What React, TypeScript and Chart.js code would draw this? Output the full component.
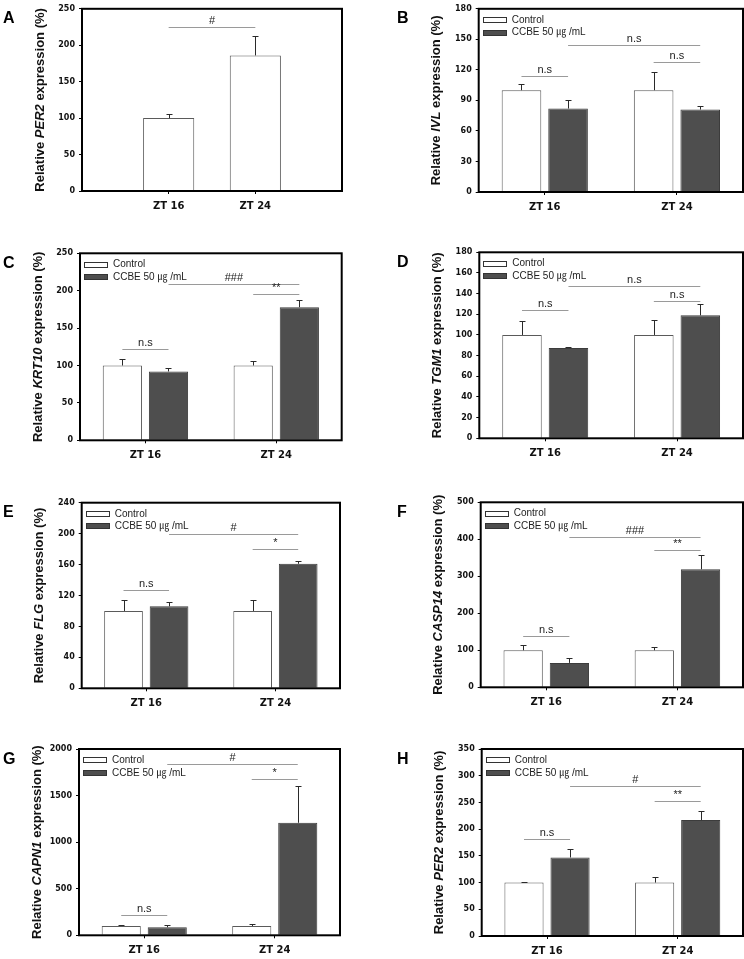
import React, { useEffect, useRef } from 'react';
import { Chart, registerables } from 'chart.js';

Chart.register(...registerables);

// ---------- data ----------
const timepoints = ['ZT 16', 'ZT 24'];
const controlName = 'Control';
const ccbeName = 'CCBE 50 ㎍ /mL';

type Sig = { y: number; from: [number, number]; to: [number, number]; text: string };

// A: PER2 in untreated cells (single series, centred at 1/3 and 2/3)
const per2BaseLabels = ['', 'ZT 16', 'ZT 24', ''];
const per2BaseMean = [null, 100, 186, null];
const per2BaseErr = [null, 6, 27, null];
const per2BaseSig: Sig[] = [{ y: 225, from: [1, 0], to: [2, 0], text: '#' }];

// B: IVL
const ivlControl = [100, 100];
const ivlControlErr = [6, 18];
const ivlCcbe = [82, 81];
const ivlCcbeErr = [8, 3.5];
const ivlSig: Sig[] = [
  { y: 144, from: [0, 1], to: [1, 1], text: 'n.s' },
  { y: 114, from: [0, 0], to: [0, 1], text: 'n.s' },
  { y: 127.5, from: [1, 0], to: [1, 1], text: 'n.s' },
];

// C: KRT10
const krt10Control = [100, 100];
const krt10ControlErr = [9, 6];
const krt10Ccbe = [92, 178];
const krt10CcbeErr = [5, 10];
const krt10Sig: Sig[] = [
  { y: 209, from: [0, 1], to: [1, 1], text: '###' },
  { y: 196, from: [1, 0], to: [1, 1], text: '**' },
  { y: 122, from: [0, 0], to: [0, 1], text: 'n.s' },
];

// D: TGM1
const tgm1Control = [100, 100];
const tgm1ControlErr = [13.5, 14.5];
const tgm1Ccbe = [87.5, 119];
const tgm1CcbeErr = [0.7, 11];
const tgm1Sig: Sig[] = [
  { y: 147, from: [0, 1], to: [1, 1], text: 'n.s' },
  { y: 132.5, from: [1, 0], to: [1, 1], text: 'n.s' },
  { y: 124, from: [0, 0], to: [0, 1], text: 'n.s' },
];

// E: FLG
const flgControl = [100, 100];
const flgControlErr = [14, 14];
const flgCcbe = [106, 161];
const flgCcbeErr = [6, 4];
const flgSig: Sig[] = [
  { y: 199, from: [0, 1], to: [1, 1], text: '#' },
  { y: 180, from: [1, 0], to: [1, 1], text: '*' },
  { y: 127, from: [0, 0], to: [0, 1], text: 'n.s' },
];

// F: CASP14
const casp14Control = [100, 100];
const casp14ControlErr = [13, 9];
const casp14Ccbe = [66, 319];
const casp14CcbeErr = [12, 38];
const casp14Sig: Sig[] = [
  { y: 407, from: [0, 1], to: [1, 1], text: '###' },
  { y: 371, from: [1, 0], to: [1, 1], text: '**' },
  { y: 139.5, from: [0, 0], to: [0, 1], text: 'n.s' },
];

// G: CAPN1
const capn1Control = [100, 100];
const capn1ControlErr = [15, 21];
const capn1Ccbe = [86, 1208];
const capn1CcbeErr = [21, 400];
const capn1Sig: Sig[] = [
  { y: 1841, from: [0, 1], to: [1, 1], text: '#' },
  { y: 1674, from: [1, 0], to: [1, 1], text: '*' },
  { y: 218, from: [0, 0], to: [0, 1], text: 'n.s' },
];

// H: PER2 with CCBE
const per2Control = [100, 100];
const per2ControlErr = [2, 11];
const per2Ccbe = [147, 217];
const per2CcbeErr = [15, 17];
const per2Sig: Sig[] = [
  { y: 280, from: [0, 1], to: [1, 1], text: '#' },
  { y: 253, from: [1, 0], to: [1, 1], text: '**' },
  { y: 182, from: [0, 0], to: [0, 1], text: 'n.s' },
];

// ---------- styling ----------
const SANS = "'Liberation Sans', Arial, 'Noto Sans CJK KR', sans-serif";
const WIDE = "'DejaVu Sans', 'Liberation Sans', sans-serif";
const WHITE_FILL = '#ffffff';
const WHITE_EDGE = '#5a5a5a';
const DARK_FILL = '#4e4e4e';
const DARK_EDGE = '#3c3c3c';

type Series = { name: string; mean: (number | null)[]; err: (number | null)[]; fill: string; edge: string };

interface PanelSpec {
  letter: string;
  gene: string;
  col: number;
  row: number;
  plot: [number, number, number, number]; // left, top, right, bottom on the page
  yMax: number;
  yStep: number;
  labels: string[];
  series: Series[];
  sig: Sig[];
  legend: boolean;
  single: boolean;
}

const COL_W = 372;
const ROW_TOPS = [0, 240, 480, 720];
const ROW_H = [240, 240, 240, 239];
const LETTER_X = [3, 25];

const ctrl = (mean: number[], err: number[]): Series => ({ name: controlName, mean, err, fill: WHITE_FILL, edge: WHITE_EDGE });
const ccbe = (mean: number[], err: number[]): Series => ({ name: ccbeName, mean, err, fill: DARK_FILL, edge: DARK_EDGE });

const panels: PanelSpec[] = [
  {
    letter: 'A', gene: 'PER2', col: 0, row: 0, plot: [82, 5, 342, 191], yMax: 250, yStep: 50,
    labels: per2BaseLabels,
    series: [{ name: controlName, mean: per2BaseMean, err: per2BaseErr, fill: WHITE_FILL, edge: WHITE_EDGE }],
    sig: per2BaseSig, legend: false, single: true,
  },
  {
    letter: 'B', gene: 'IVL', col: 1, row: 0, plot: [478.7, 6, 743, 192], yMax: 180, yStep: 30,
    labels: timepoints, series: [ctrl(ivlControl, ivlControlErr), ccbe(ivlCcbe, ivlCcbeErr)],
    sig: ivlSig, legend: true, single: false,
  },
  {
    letter: 'C', gene: 'KRT10', col: 0, row: 1, plot: [80, 253.3, 341.7, 440.3], yMax: 250, yStep: 50,
    labels: timepoints, series: [ctrl(krt10Control, krt10ControlErr), ccbe(krt10Ccbe, krt10CcbeErr)],
    sig: krt10Sig, legend: true, single: false,
  },
  {
    letter: 'D', gene: 'TGM1', col: 1, row: 1, plot: [479.3, 252.3, 743, 438.3], yMax: 180, yStep: 20,
    labels: timepoints, series: [ctrl(tgm1Control, tgm1ControlErr), ccbe(tgm1Ccbe, tgm1CcbeErr)],
    sig: tgm1Sig, legend: true, single: false,
  },
  {
    letter: 'E', gene: 'FLG', col: 0, row: 2, plot: [81.7, 502.7, 340, 688.3], yMax: 240, yStep: 40,
    labels: timepoints, series: [ctrl(flgControl, flgControlErr), ccbe(flgCcbe, flgCcbeErr)],
    sig: flgSig, legend: true, single: false,
  },
  {
    letter: 'F', gene: 'CASP14', col: 1, row: 2, plot: [480.7, 502.3, 743, 687.3], yMax: 500, yStep: 100,
    labels: timepoints, series: [ctrl(casp14Control, casp14ControlErr), ccbe(casp14Ccbe, casp14CcbeErr)],
    sig: casp14Sig, legend: true, single: false,
  },
  {
    letter: 'G', gene: 'CAPN1', col: 0, row: 3, plot: [79, 749, 340, 935.3], yMax: 2000, yStep: 500,
    labels: timepoints, series: [ctrl(capn1Control, capn1ControlErr), ccbe(capn1Ccbe, capn1CcbeErr)],
    sig: capn1Sig, legend: true, single: false,
  },
  {
    letter: 'H', gene: 'PER2', col: 1, row: 3, plot: [481.7, 749, 743, 936], yMax: 350, yStep: 50,
    labels: timepoints, series: [ctrl(per2Control, per2ControlErr), ccbe(per2Ccbe, per2CcbeErr)],
    sig: per2Sig, legend: true, single: false,
  },
];

function canvasBox(spec: PanelSpec) {
  return { x: spec.col * COL_W, y: ROW_TOPS[spec.row], w: COL_W, h: ROW_H[spec.row] };
}

// Error bars, frame, significance brackets, legend, axis title and panel letter
function decorPlugin(spec: PanelSpec) {
  return {
    id: 'panelDecor',
    afterDatasetsDraw(chart: any) {
      const { ctx, chartArea: a } = chart;
      const ys = chart.scales.y;
      ctx.save();

      // upper error bars
      ctx.strokeStyle = '#2a2a2a';
      ctx.lineWidth = 1;
      spec.series.forEach((s, di) => {
        const meta = chart.getDatasetMeta(di);
        s.err.forEach((e, i) => {
          const v = s.mean[i];
          if (e == null || v == null) return;
          const el = meta.data[i];
          const x = Math.round(el.x) + 0.5;
          const y0 = ys.getPixelForValue(v);
          const y1 = Math.round(ys.getPixelForValue(v + e)) + 0.5;
          ctx.beginPath();
          ctx.moveTo(x, y0);
          ctx.lineTo(x, y1);
          ctx.moveTo(x - 3, y1);
          ctx.lineTo(x + 3, y1);
          ctx.stroke();
        });
      });

      // plot frame
      ctx.strokeStyle = '#000';
      ctx.lineWidth = 2;
      ctx.strokeRect(a.left, a.top, a.right - a.left, a.bottom - a.top);

      // significance brackets
      ctx.lineWidth = 1;
      ctx.font = `11px ${SANS}`;
      ctx.textAlign = 'center';
      ctx.textBaseline = 'bottom';
      spec.sig.forEach((s) => {
        const xa = chart.getDatasetMeta(s.from[1]).data[s.from[0]].x;
        const xb = chart.getDatasetMeta(s.to[1]).data[s.to[0]].x;
        const y = Math.round(ys.getPixelForValue(s.y)) + 0.5;
        ctx.strokeStyle = '#9a9a9a';
        ctx.beginPath();
        ctx.moveTo(xa, y);
        ctx.lineTo(xb, y);
        ctx.stroke();
        ctx.fillStyle = '#222';
        ctx.fillText(s.text, (xa + xb) / 2, y - 1);
      });

      // legend inside the plot
      if (spec.legend) {
        ctx.font = `10px ${SANS}`;
        ctx.textAlign = 'left';
        ctx.textBaseline = 'middle';
        spec.series.forEach((s, k) => {
          const cy = a.top + 10.7 + k * 12.6;
          const bx = Math.round(a.left + 4) + 0.5;
          const by = Math.round(cy - 2.5) + 0.5;
          ctx.fillStyle = s.fill;
          ctx.fillRect(bx, by, 23, 5);
          ctx.strokeStyle = '#333';
          ctx.strokeRect(bx, by, 23, 5);
          ctx.fillStyle = '#222';
          ctx.fillText(s.name, a.left + 33, cy + 0.5);
        });
      }
      ctx.restore();
    },
    afterDraw(chart: any) {
      const { ctx, chartArea: a } = chart;
      ctx.save();
      // y-axis title with the gene name in italics
      const parts = [
        { t: 'Relative ', it: false },
        { t: spec.gene, it: true },
        { t: ' expression (%)', it: false },
      ];
      const fontOf = (it: boolean) => `${it ? 'italic ' : ''}bold 13px ${SANS}`;
      let total = 0;
      parts.forEach((p) => {
        ctx.font = fontOf(p.it);
        total += ctx.measureText(p.t).width;
      });
      ctx.translate(a.left - 42, (a.top + a.bottom) / 2);
      ctx.rotate(-Math.PI / 2);
      ctx.fillStyle = '#111';
      ctx.textBaseline = 'middle';
      ctx.textAlign = 'left';
      let x = -total / 2;
      parts.forEach((p) => {
        ctx.font = fontOf(p.it);
        ctx.fillText(p.t, x, 0);
        x += ctx.measureText(p.t).width;
      });
      ctx.restore();

      // panel letter
      ctx.save();
      ctx.font = `bold 16px ${SANS}`;
      ctx.fillStyle = '#000';
      ctx.textAlign = 'left';
      ctx.textBaseline = 'alphabetic';
      ctx.fillText(spec.letter, LETTER_X[spec.col], a.top + 14.5);
      ctx.restore();
    },
  };
}

function buildConfig(spec: PanelSpec): any {
  const box = canvasBox(spec);
  const [pl, pt, pr, pb] = spec.plot;
  const yAxisWidth = pl - box.x;
  const xAxisHeight = box.y + box.h - pb;
  const labels = spec.labels;

  return {
    type: 'bar',
    data: {
      labels,
      datasets: spec.series.map((s) => ({
        label: s.name,
        data: s.mean,
        backgroundColor: s.fill,
        borderColor: s.edge,
        borderWidth: 1,
        categoryPercentage: spec.single ? 1 : 0.705,
        barPercentage: spec.single ? 0.59 : 0.85,
      })),
    },
    options: {
      responsive: false,
      animation: false,
      devicePixelRatio: 1,
      events: [],
      layout: {
        autoPadding: false,
        padding: { left: 0, top: pt - box.y, right: box.x + box.w - pr, bottom: 0 },
      },
      plugins: {
        legend: { display: false },
        tooltip: { enabled: false },
        title: { display: false },
      },
      scales: {
        x: {
          type: 'category',
          offset: !spec.single,
          border: { display: false },
          grid: {
            display: true,
            offset: false,
            drawOnChartArea: false,
            drawTicks: true,
            tickLength: 3,
            color: '#000',
            lineWidth: 1,
          },
          ticks: {
            autoSkip: false,
            maxRotation: 0,
            padding: 6,
            color: '#111',
            font: { family: WIDE, weight: 'bold', size: 10 },
          },
          afterBuildTicks: (scale: any) => {
            scale.ticks = scale.ticks.filter((t: any) => labels[t.value] !== '');
          },
          afterFit: (scale: any) => {
            scale.height = xAxisHeight;
          },
        },
        y: {
          min: 0,
          max: spec.yMax,
          border: { display: false },
          grid: {
            display: true,
            drawOnChartArea: false,
            drawTicks: true,
            tickLength: 3,
            color: '#000',
            lineWidth: 1,
          },
          ticks: {
            stepSize: spec.yStep,
            padding: 4,
            color: '#111',
            font: { family: WIDE, weight: 'bold', size: 8 },
            callback: (v: number) => String(v),
          },
          afterFit: (scale: any) => {
            scale.width = yAxisWidth;
          },
        },
      },
    },
    plugins: [decorPlugin(spec)],
  };
}

function Panel({ spec }: { spec: PanelSpec }) {
  const ref = useRef<HTMLCanvasElement>(null);
  useEffect(() => {
    const chart = new Chart(ref.current as HTMLCanvasElement, buildConfig(spec));
    return () => chart.destroy();
  }, [spec]);
  const box = canvasBox(spec);
  return (
    <canvas
      ref={ref}
      width={box.w}
      height={box.h}
      style={{ position: 'absolute', left: box.x, top: box.y, width: box.w, height: box.h, display: 'block' }}
    />
  );
}

export default function App() {
  return (
    <div style={{ position: 'absolute', left: 0, top: 0, width: 744, height: 959, background: '#fff', overflow: 'hidden' }}>
      {panels.map((p) => (
        <Panel key={p.letter} spec={p} />
      ))}
    </div>
  );
}
